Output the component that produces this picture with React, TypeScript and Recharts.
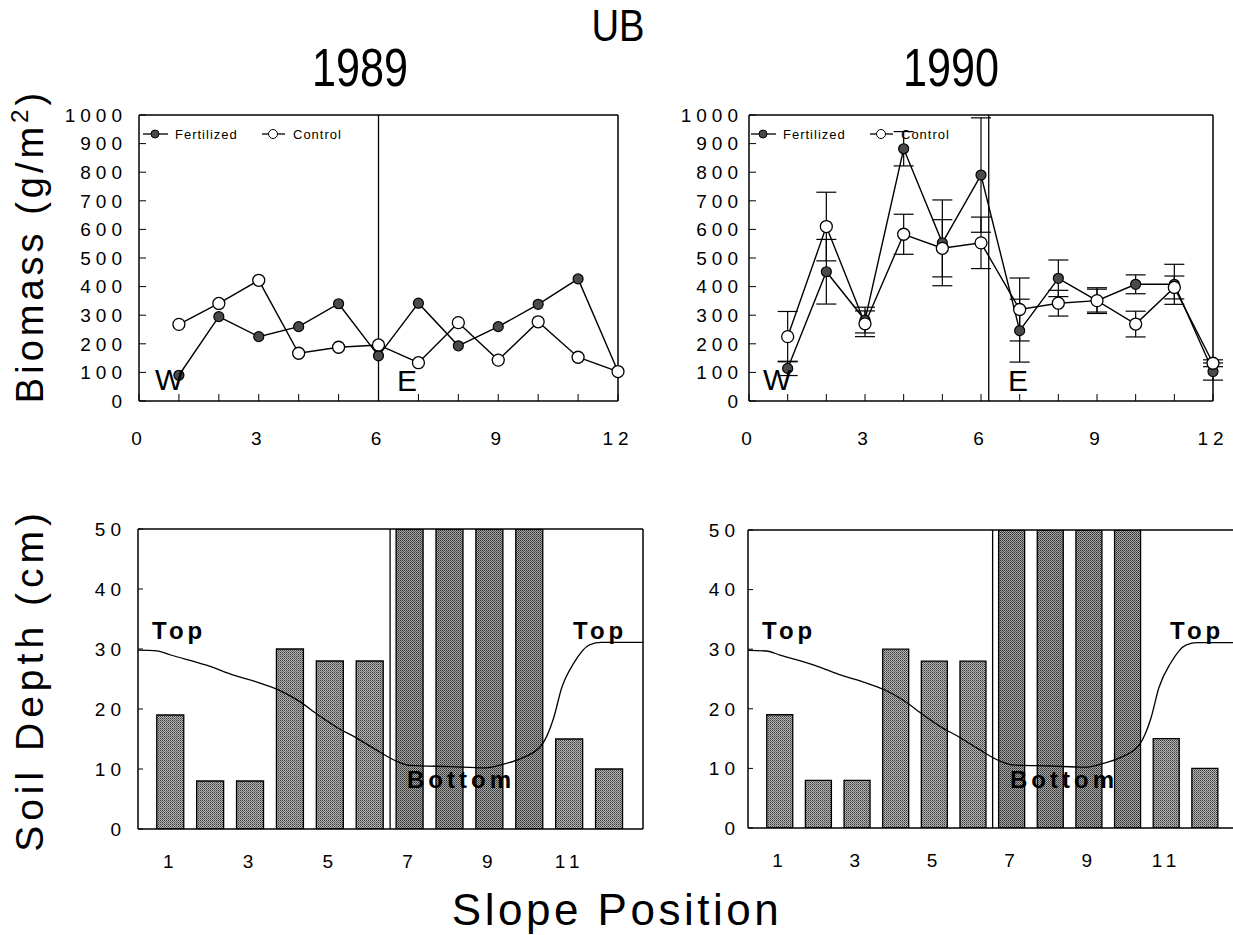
import React from "react";
import {
  Bar,
  Cell,
  ComposedChart,
  ErrorBar,
  Line,
  LineChart,
  ReferenceLine,
  XAxis,
  YAxis,
} from "recharts";

// slope positions 1..12 along the transect
const positions = [1, 2, 3, 4, 5, 6, 7, 8, 9, 10, 11, 12];

// biomass (g/m2)
const fert1989 = [90, 295, 225, 260, 340, 158, 342, 193, 260, 338, 427, 103];
const ctrl1989 = [268, 341, 422, 167, 188, 196, 134, 274, 143, 277, 153, 103];
const fert1990 = [114, 452, 283, 882, 553, 790, 246, 429, 351, 408, 408, 103];
const ctrl1990 = [225, 610, 270, 583, 534, 553, 320, 342, 351, 269, 397, 132];
const fertErr1990 = [25, 113, 45, 60, 150, 200, 110, 64, 40, 33, 70, 30];
const ctrlErr1990 = [88, 120, 45, 70, 100, 90, 110, 45, 45, 45, 40, 12];

// soil depth (cm) per slope position
const soilDepth = [19, 8, 8, 30, 28, 28, 50, 50, 50, 50, 15, 10];

// surface profile line (Top -> Bottom -> Top)
const profileX = [0.18, 0.65, 1.0, 1.9, 2.6, 3.2, 3.7, 4.2, 4.7, 5.2, 5.6, 6.1, 6.7, 7.0, 8.0, 8.9, 9.34, 9.8, 10.3, 10.6, 10.8, 11.1, 11.5, 11.8, 12.84];
const profileDepth = [29.8, 29.7, 29.0, 27.3, 25.6, 24.4, 23.2, 21.4, 19.0, 16.8, 15.4, 13.4, 11.2, 10.6, 10.4, 10.2, 10.8, 11.8, 14.0, 18.5, 23.5, 27.6, 30.7, 31.1, 31.1];

const biomassTicks = [0, 100, 200, 300, 400, 500, 600, 700, 800, 900, 1000];
const slopeTicks = [0, 1, 2, 3, 4, 5, 6, 7, 8, 9, 10, 11, 12];
const depthTicks = [0, 10, 20, 30, 40, 50];
const positionTicks = [1, 3, 5, 7, 9, 11];

const FONT = "'Liberation Sans', Arial, Helvetica, sans-serif";
const tickStyle = { fontSize: 19, fill: "#000", letterSpacing: 5 };

function BiomassPanel({
  fert,
  ctrl,
  fertErr,
  ctrlErr,
  divider,
  width,
  rightMargin,
  labelGap,
}: {
  fert: number[];
  ctrl: number[];
  fertErr?: number[];
  ctrlErr?: number[];
  divider: number;
  width: number;
  rightMargin: number;
  labelGap: number;
}) {
  const data = positions.map((p, i) => ({
    pos: p,
    fert: fert[i],
    ctrl: ctrl[i],
    fertErr: fertErr ? fertErr[i] : 0,
    ctrlErr: ctrlErr ? ctrlErr[i] : 0,
  }));
  return (
    <LineChart
      width={width}
      height={360}
      data={data}
      margin={{ top: 15, right: rightMargin, bottom: 19, left: 79 }}
    >
      <XAxis
        dataKey="pos"
        type="number"
        domain={[0, 12]}
        ticks={slopeTicks}
        tickFormatter={(v: number) => (v % 3 === 0 ? String(v) : "")}
        axisLine={{ stroke: "#000", strokeWidth: 1.5 }}
        tickLine={{ stroke: "#000" }}
        tickSize={-7}
        tickMargin={38}
        height={40}
        tick={tickStyle}
        interval={0}
      />
      <YAxis
        domain={[0, 1000]}
        ticks={biomassTicks}
        axisLine={{ stroke: "#000", strokeWidth: 1.5 }}
        tickLine={{ stroke: "#000" }}
        tickSize={-7}
        tickMargin={labelGap}
        width={60}
        tick={tickStyle}
        interval={0}
      />
      <YAxis
        yAxisId="r"
        orientation="right"
        domain={[0, 1000]}
        ticks={biomassTicks}
        axisLine={{ stroke: "#000", strokeWidth: 1.5 }}
        tickLine={{ stroke: "#000" }}
        tickSize={-7}
        tick={false}
        width={1}
      />
      <ReferenceLine y={1000} stroke="#000" strokeWidth={1.5} />
      <ReferenceLine x={divider} stroke="#000" strokeWidth={1.3} />
      <Line
        dataKey="fert"
        stroke="#000"
        strokeWidth={1.4}
        isAnimationActive={false}
        dot={{ r: 5, fill: "#4a4a4a", stroke: "#000", strokeWidth: 1.2 }}
      >
        {fertErr && (
          <ErrorBar dataKey="fertErr" direction="y" width={10} stroke="#000" strokeWidth={1.2} />
        )}
      </Line>
      <Line
        dataKey="ctrl"
        stroke="#000"
        strokeWidth={1.4}
        isAnimationActive={false}
        dot={{ r: 6, fill: "#fff", stroke: "#000", strokeWidth: 1.3 }}
      >
        {ctrlErr && (
          <ErrorBar dataKey="ctrlErr" direction="y" width={10} stroke="#000" strokeWidth={1.2} />
        )}
      </Line>
    </LineChart>
  );
}

function DepthPanel({
  id,
  width,
  top,
  bottom,
  rightMargin,
  domainMin,
  domainMax,
  barSize,
  labelGap,
  frameRight,
}: {
  id: string;
  width: number;
  top: number;
  bottom: number;
  rightMargin: number;
  domainMin: number;
  domainMax: number;
  barSize: number;
  labelGap: number;
  frameRight: boolean;
}) {
  const bars = positions.map((p, i) => ({ pos: p, soil: soilDepth[i] }));
  const profile = profileX.map((x, i) => ({ px: x, profile: profileDepth[i] }));
  return (
    <ComposedChart
      width={width}
      height={380}
      data={bars}
      margin={{ top, right: rightMargin, bottom, left: 78 }}
    >
      <defs>
        <pattern id={`${id}-light`} width="2" height="2" patternUnits="userSpaceOnUse">
          <rect width="2" height="2" fill="#b4b4b4" />
          <rect width="1" height="1" fill="#3a3a3a" />
          <rect x="1" y="1" width="1" height="1" fill="#6a6a6a" />
        </pattern>
        <pattern id={`${id}-dark`} width="2" height="2" patternUnits="userSpaceOnUse">
          <rect width="2" height="2" fill="#a6a6a6" />
          <rect width="1" height="1" fill="#2e2e2e" />
          <rect x="1" y="1" width="1" height="1" fill="#565656" />
        </pattern>
      </defs>
      <XAxis
        dataKey="pos"
        type="number"
        domain={[domainMin, domainMax]}
        ticks={positionTicks}
        axisLine={{ stroke: "#000", strokeWidth: 1.5 }}
        tickLine={false}
        tickSize={0}
        tickMargin={26}
        height={40}
        tick={tickStyle}
        interval={0}
        allowDataOverflow
      />
      <XAxis
        xAxisId="profile"
        dataKey="px"
        type="number"
        domain={[domainMin, domainMax]}
        hide
        allowDataOverflow
      />
      <YAxis
        domain={[0, 50]}
        ticks={depthTicks}
        axisLine={{ stroke: "#000", strokeWidth: 1.5 }}
        tickLine={{ stroke: "#000" }}
        tickSize={-5}
        tickMargin={labelGap}
        width={60}
        tick={tickStyle}
        interval={0}
        allowDataOverflow
      />
      <ReferenceLine y={50} stroke="#000" strokeWidth={1.5} />
      {frameRight && <ReferenceLine x={domainMax} stroke="#000" strokeWidth={1.5} />}
      <Bar dataKey="soil" barSize={barSize} stroke="#000" strokeWidth={1.3} isAnimationActive={false}>
        {bars.map((b) => (
          <Cell key={b.pos} fill={`url(#${id}-${b.pos >= 7 && b.pos <= 10 ? "dark" : "light"})`} />
        ))}
      </Bar>
      <ReferenceLine x={6.5} stroke="#000" strokeWidth={1.3} />
      <Line
        xAxisId="profile"
        data={profile}
        dataKey="profile"
        type="monotone"
        stroke="#000"
        strokeWidth={1.3}
        dot={false}
        isAnimationActive={false}
      />
    </ComposedChart>
  );
}

function LegendKey({ x, y }: { x: number; y: number }) {
  return (
    <g>
      <line x1={x} x2={x + 25} y1={y} y2={y} stroke="#000" strokeWidth={1.3} />
      <circle cx={x + 12} cy={y} r={4} fill="#4a4a4a" stroke="#000" />
      <text x={x + 32} y={y + 5} fontSize={13} letterSpacing={1}>
        Fertilized
      </text>
      <line x1={x + 119} x2={x + 142} y1={y} y2={y} stroke="#000" strokeWidth={1.3} />
      <circle cx={x + 130} cy={y} r={4.5} fill="#fff" stroke="#000" />
      <text x={x + 150} y={y + 5} fontSize={13} letterSpacing={1}>
        Control
      </text>
    </g>
  );
}

export default function App() {
  const boldLabel = { fontSize: 24, fontWeight: 700, letterSpacing: 4 };
  return (
    <div
      style={{
        position: "absolute",
        left: 0,
        top: 0,
        width: 1233,
        height: 935,
        overflow: "hidden",
        background: "#fff",
        fontFamily: FONT,
      }}
    >
      <div style={{ position: "absolute", left: 0, top: 100 }}>
        <BiomassPanel
          fert={fert1989}
          ctrl={ctrl1989}
          divider={6}
          width={640}
          rightMargin={21}
          labelGap={19}
        />
      </div>
      <div style={{ position: "absolute", left: 610, top: 100 }}>
        <BiomassPanel
          fert={fert1990}
          ctrl={ctrl1990}
          fertErr={fertErr1990}
          ctrlErr={ctrlErr1990}
          divider={6.2}
          width={623}
          rightMargin={19}
          labelGap={13}
        />
      </div>
      <div style={{ position: "absolute", left: 0, top: 500 }}>
        <DepthPanel
          id="d89"
          width={662}
          top={29}
          bottom={11}
          rightMargin={19}
          domainMin={0.18}
          domainMax={12.84}
          barSize={27}
          labelGap={17}
          frameRight
        />
      </div>
      <div style={{ position: "absolute", left: 610, top: 500 }}>
        <DepthPanel
          id="d90"
          width={640}
          top={30}
          bottom={12}
          rightMargin={0}
          domainMin={0.17}
          domainMax={13.16}
          barSize={26}
          labelGap={13}
          frameRight={false}
        />
      </div>

      <svg
        width={1233}
        height={935}
        style={{ position: "absolute", left: 0, top: 0, pointerEvents: "none" }}
        fontFamily={FONT}
      >
        <text transform="translate(618,41) scale(0.85,1)" textAnchor="middle" fontSize={45}>
          UB
        </text>
        <text transform="translate(360,86) scale(0.8,1)" textAnchor="middle" fontSize={54}>
          1989
        </text>
        <text transform="translate(951,86) scale(0.8,1)" textAnchor="middle" fontSize={54}>
          1990
        </text>
        <text transform="translate(43,246) rotate(-90)" textAnchor="middle" fontSize={38} letterSpacing={4}>
          Biomass (g/m
          <tspan dy={-15} fontSize={24}>
            2
          </tspan>
          <tspan dy={15}>)</tspan>
        </text>
        <text transform="translate(43,680) rotate(-90)" textAnchor="middle" fontSize={39} letterSpacing={5}>
          Soil Depth (cm)
        </text>
        <text x={617} y={925} textAnchor="middle" fontSize={44} letterSpacing={3.5}>
          Slope Position
        </text>

        <LegendKey x={143} y={134} />
        <LegendKey x={751} y={134} />

        <text x={155} y={390} fontSize={30}>W</text>
        <text x={397} y={391} fontSize={30}>E</text>
        <text x={763} y={390} fontSize={30}>W</text>
        <text x={1008} y={391} fontSize={30}>E</text>

        <text x={152} y={639} {...boldLabel}>Top</text>
        <text x={573} y={639} {...boldLabel}>Top</text>
        <text x={407} y={788} {...boldLabel}>Bottom</text>
        <text x={762} y={639} {...boldLabel}>Top</text>
        <text x={1170} y={639} {...boldLabel}>Top</text>
        <text x={1010} y={788} {...boldLabel}>Bottom</text>
      </svg>
    </div>
  );
}
